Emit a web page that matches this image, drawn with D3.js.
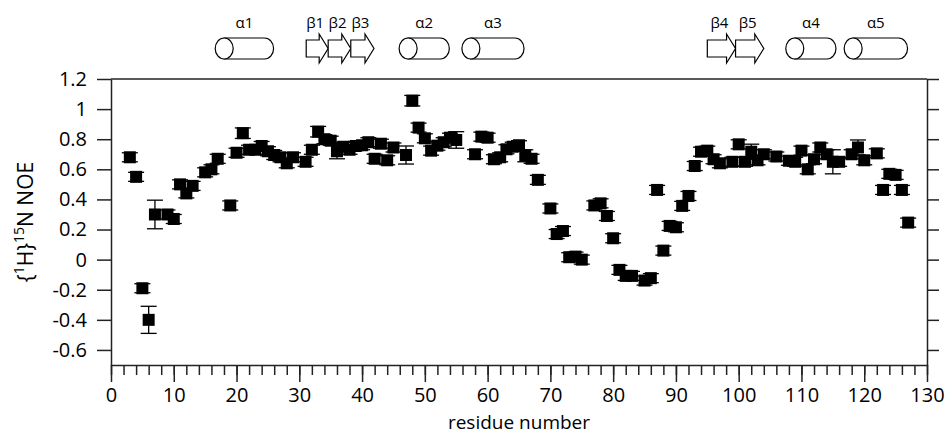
<!DOCTYPE html>
<html>
<head>
<meta charset="utf-8">
<script src="https://cdn.jsdelivr.net/npm/d3@7"></script>
<style>
  body { margin: 0; background: #fff; }
  svg { display: block; font-family: "Open Sans", sans-serif; }
</style>
</head>
<body>
<div id="chart"></div>
<script>
// residue numbers and heteronuclear NOE values
var residues = [3,4,5,6,7,9,10,11,12,13,15,16,17,19,20,21,22,23,24,25,26,27,28,29,31,32,33,34,35,36,37,38,39,40,41,42,43,44,45,47,48,49,50,51,52,53,54,55,58,59,60,61,62,63,64,65,66,67,68,70,71,72,73,74,75,77,78,79,80,81,82,83,85,86,87,88,89,90,91,92,93,94,95,96,97,99,100,101,102,103,104,106,108,109,110,111,112,113,114,115,116,118,119,120,122,123,124,125,126,127];
var noe = [0.68,0.55,-0.19,-0.40,0.30,0.30,0.27,0.50,0.44,0.49,0.58,0.60,0.67,0.36,0.71,0.84,0.73,0.73,0.755,0.72,0.695,0.68,0.64,0.68,0.65,0.73,0.85,0.80,0.79,0.72,0.75,0.73,0.755,0.76,0.78,0.67,0.77,0.66,0.745,0.695,1.056,0.877,0.806,0.724,0.757,0.78,0.81,0.795,0.70,0.817,0.81,0.667,0.68,0.733,0.75,0.76,0.69,0.67,0.53,0.34,0.17,0.19,0.016,0.02,0.0,0.36,0.374,0.29,0.142,-0.068,-0.108,-0.108,-0.139,-0.123,0.463,0.06,0.224,0.215,0.357,0.423,0.622,0.717,0.724,0.667,0.64,0.65,0.766,0.65,0.717,0.66,0.70,0.685,0.657,0.65,0.724,0.60,0.667,0.745,0.70,0.65,0.65,0.70,0.745,0.66,0.706,0.463,0.57,0.563,0.463,0.246];
// error bars: most are ~0.03, larger ones listed by residue
var errDefault = 0.03;
var errLarge = {6: 0.09, 7: 0.095, 21: 0.035, 33: 0.035, 36: 0.05, 47: 0.06, 48: 0.035, 55: 0.055, 66: 0.04, 102: 0.05, 115: 0.08, 119: 0.05};

// secondary structure elements (residue ranges)
var ssNames = ["α1","β1","β2","β3","α2","α3","β4","β5","α4","α5"];
var ssType  = ["helix","strand","strand","strand","helix","helix","strand","strand","helix","helix"];
var ssStart = [16.6,31.1,34.6,38.2,45.9,55.9,95.0,99.5,107.5,116.8];
var ssEnd   = [25.9,34.6,38.2,41.9,53.9,65.8,99.5,104.0,115.5,126.9];

var yTicks = [-0.6,-0.4,-0.2,0,0.2,0.4,0.6,0.8,1,1.2];
var xTicks = d3.range(0, 131, 10);

var width = 945, height = 434;
var plotL = 111, plotR = 927, plotT = 79, plotB = 365;

var svg = d3.select("#chart").append("svg")
  .attr("width", width)
  .attr("height", height);

var x = d3.scaleLinear().domain([0, 130]).range([plotL, plotR]);
var y = d3.scaleLinear().domain([-0.7, 1.2]).range([plotB, plotT]);

var axisColor = "#222";

// minor x ticks every 2 residues
svg.append("g")
  .attr("transform", "translate(0," + plotB + ")")
  .call(d3.axisBottom(x).tickValues(d3.range(0, 131, 2)).tickSize(10).tickSizeOuter(0).tickFormat(""))
  .call(g => g.select(".domain").remove());

var gx = svg.append("g")
  .attr("transform", "translate(0," + plotB + ")")
  .call(d3.axisBottom(x).tickValues(xTicks).tickSize(17).tickSizeOuter(0).tickPadding(6));
gx.selectAll("text").attr("font-size", 20).attr("fill", "#000").attr("font-family", "Open Sans");

var gy = svg.append("g")
  .attr("transform", "translate(" + plotL + ",0)")
  .call(d3.axisLeft(y).tickValues(yTicks).tickSize(14).tickSizeOuter(0).tickPadding(10)
    .tickFormat(d => String(+d.toFixed(1))));
gy.selectAll("text").attr("font-size", 20).attr("fill", "#000").attr("font-family", "Open Sans");

svg.append("g")
  .attr("transform", "translate(" + plotR + ",0)")
  .call(d3.axisRight(y).tickValues(yTicks).tickSize(12).tickSizeOuter(0).tickFormat(""));

// top frame line
svg.append("line")
  .attr("x1", plotL).attr("x2", plotR)
  .attr("y1", plotT).attr("y2", plotT);

svg.selectAll(".domain, .tick line, line")
  .attr("stroke", axisColor)
  .attr("stroke-width", 1.5);

// axis titles
svg.append("text")
  .attr("x", (plotL + plotR) / 2)
  .attr("y", 429)
  .attr("text-anchor", "middle")
  .attr("font-size", 19)
  .text("residue number");

var ylab = svg.append("text")
  .attr("transform", "translate(33," + ((plotT + plotB) / 2) + ") rotate(-90)")
  .attr("text-anchor", "middle")
  .attr("font-size", 21);
ylab.append("tspan").text("{");
ylab.append("tspan").attr("font-size", 14).attr("dy", -9).text("1");
ylab.append("tspan").attr("dy", 9).text("H}");
ylab.append("tspan").attr("font-size", 14).attr("dy", -9).text("15");
ylab.append("tspan").attr("dy", 9).text("N NOE");

// data
var data = residues.map(function(r, i) {
  return {r: r, v: noe[i], e: errLarge[r] !== undefined ? errLarge[r] : errDefault};
});

var pts = svg.append("g");
var errG = pts.selectAll(".err").data(data).enter().append("g")
  .attr("stroke", "#000").attr("stroke-width", 1.3);
errG.append("line")
  .attr("x1", d => x(d.r)).attr("x2", d => x(d.r))
  .attr("y1", d => y(d.v + d.e)).attr("y2", d => y(d.v - d.e));
errG.append("line")
  .attr("x1", d => x(d.r) - 8).attr("x2", d => x(d.r) + 8)
  .attr("y1", d => y(d.v + d.e)).attr("y2", d => y(d.v + d.e));
errG.append("line")
  .attr("x1", d => x(d.r) - 8).attr("x2", d => x(d.r) + 8)
  .attr("y1", d => y(d.v - d.e)).attr("y2", d => y(d.v - d.e));

var sq = 12;
pts.selectAll("rect").data(data).enter().append("rect")
  .attr("x", d => x(d.r) - sq / 2)
  .attr("y", d => y(d.v) - sq / 2)
  .attr("width", sq).attr("height", sq)
  .attr("fill", "#000");

// secondary structure header
var ssTop = 38, ssBot = 59, ssMid = (ssTop + ssBot) / 2;
var ss = svg.append("g").attr("fill", "#fff").attr("stroke", "#000").attr("stroke-width", 1.2);
ssNames.forEach(function(name, i) {
  var x0 = x(ssStart[i]), x1 = x(ssEnd[i]);
  if (ssType[i] === "helix") {
    var rx = 9, ry = (ssBot - ssTop) / 2;
    ss.append("path")
      .attr("d", "M" + (x0 + rx) + "," + ssTop + " L" + (x1 - rx) + "," + ssTop +
        " A" + rx + "," + ry + " 0 0 1 " + (x1 - rx) + "," + ssBot +
        " L" + (x0 + rx) + "," + ssBot + "Z");
    ss.append("ellipse")
      .attr("cx", x0 + rx).attr("cy", ssMid).attr("rx", rx).attr("ry", ry);
  } else {
    var head = 9;
    ss.append("path")
      .attr("d", "M" + x0 + "," + (ssTop + 2) + " L" + (x1 - head) + "," + (ssTop + 2) +
        " L" + (x1 - head) + "," + (ssTop - 4) + " L" + x1 + "," + ssMid +
        " L" + (x1 - head) + "," + (ssBot + 4) + " L" + (x1 - head) + "," + (ssBot - 2) +
        " L" + x0 + "," + (ssBot - 2) + "Z");
  }
  svg.append("text")
    .attr("x", (x0 + x1) / 2 - (ssType[i] === "strand" ? 2 : 0))
    .attr("y", 28)
    .attr("text-anchor", "middle")
    .attr("font-size", 15)
    .text(name);
});
</script>
</body>
</html>
